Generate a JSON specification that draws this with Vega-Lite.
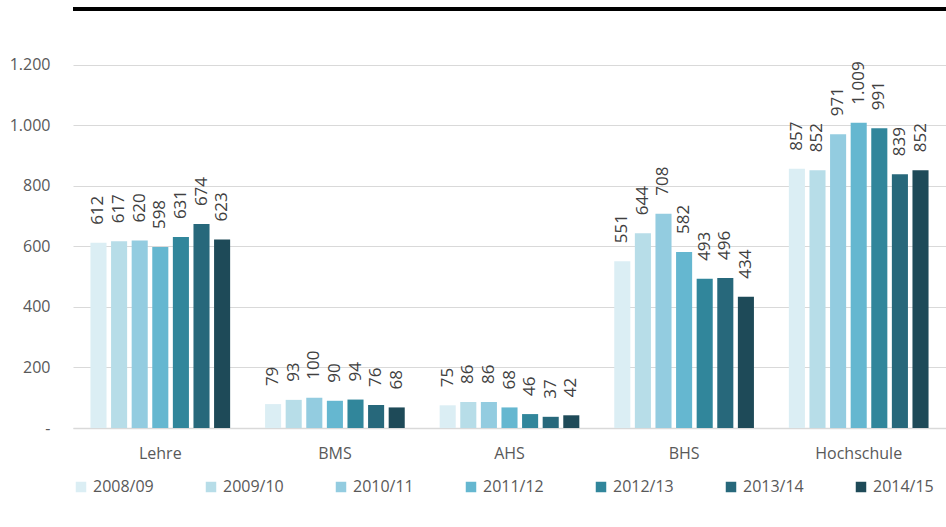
{
  "$schema": "https://vega.github.io/schema/vega-lite/v6.json",
  "width": 873,
  "height": 419,
  "autosize": "none",
  "padding": {"left": 73, "top": 9, "right": 0, "bottom": 99},
  "config": {
    "view": {"stroke": null},
    "font": "Open Sans",
    "locale": {"number": {"decimal": ",", "thousands": ".", "grouping": [3], "currency": ["", " €"]}}
  },
  "data": {"values": [
    {"typ": "Lehre", "jahr": "2008/09", "wert": 612},
    {"typ": "Lehre", "jahr": "2009/10", "wert": 617},
    {"typ": "Lehre", "jahr": "2010/11", "wert": 620},
    {"typ": "Lehre", "jahr": "2011/12", "wert": 598},
    {"typ": "Lehre", "jahr": "2012/13", "wert": 631},
    {"typ": "Lehre", "jahr": "2013/14", "wert": 674},
    {"typ": "Lehre", "jahr": "2014/15", "wert": 623},
    {"typ": "BMS", "jahr": "2008/09", "wert": 79},
    {"typ": "BMS", "jahr": "2009/10", "wert": 93},
    {"typ": "BMS", "jahr": "2010/11", "wert": 100},
    {"typ": "BMS", "jahr": "2011/12", "wert": 90},
    {"typ": "BMS", "jahr": "2012/13", "wert": 94},
    {"typ": "BMS", "jahr": "2013/14", "wert": 76},
    {"typ": "BMS", "jahr": "2014/15", "wert": 68},
    {"typ": "AHS", "jahr": "2008/09", "wert": 75},
    {"typ": "AHS", "jahr": "2009/10", "wert": 86},
    {"typ": "AHS", "jahr": "2010/11", "wert": 86},
    {"typ": "AHS", "jahr": "2011/12", "wert": 68},
    {"typ": "AHS", "jahr": "2012/13", "wert": 46},
    {"typ": "AHS", "jahr": "2013/14", "wert": 37},
    {"typ": "AHS", "jahr": "2014/15", "wert": 42},
    {"typ": "BHS", "jahr": "2008/09", "wert": 551},
    {"typ": "BHS", "jahr": "2009/10", "wert": 644},
    {"typ": "BHS", "jahr": "2010/11", "wert": 708},
    {"typ": "BHS", "jahr": "2011/12", "wert": 582},
    {"typ": "BHS", "jahr": "2012/13", "wert": 493},
    {"typ": "BHS", "jahr": "2013/14", "wert": 496},
    {"typ": "BHS", "jahr": "2014/15", "wert": 434},
    {"typ": "Hochschule", "jahr": "2008/09", "wert": 857},
    {"typ": "Hochschule", "jahr": "2009/10", "wert": 852},
    {"typ": "Hochschule", "jahr": "2010/11", "wert": 971},
    {"typ": "Hochschule", "jahr": "2011/12", "wert": 1009},
    {"typ": "Hochschule", "jahr": "2012/13", "wert": 991},
    {"typ": "Hochschule", "jahr": "2013/14", "wert": 839},
    {"typ": "Hochschule", "jahr": "2014/15", "wert": 852}
  ]},
  "layer": [
    {
      "mark": {"type": "bar"},
      "encoding": {
        "x": {
          "field": "typ", "type": "nominal",
          "sort": ["Lehre", "BMS", "AHS", "BHS", "Hochschule"],
          "scale": {"paddingInner": 0.2, "paddingOuter": 0.1},
          "axis": {"title": null, "labelAngle": 0, "labelFontSize": 16, "labelColor": "#595959", "ticks": false, "domainColor": "#d9d9d9", "domainWidth": 1.5, "labelPadding": 17}
        },
        "xOffset": {
          "field": "jahr", "type": "nominal",
          "sort": ["2008/09", "2009/10", "2010/11", "2011/12", "2012/13", "2013/14", "2014/15"],
          "scale": {"paddingInner": 0.22}
        },
        "y": {
          "field": "wert", "type": "quantitative",
          "scale": {"domain": [0, 1385], "nice": false},
          "axis": {"title": null, "values": [0, 200, 400, 600, 800, 1000, 1200], "format": ",.0f", "labelExpr": "datum.value === 0 ? '-' : datum.label", "labelFontSize": 16, "labelColor": "#595959", "ticks": false, "domain": false, "gridColor": "#d9d9d9", "gridWidth": 1.2, "labelPadding": 23}
        },
        "color": {
          "field": "jahr", "type": "nominal",
          "sort": ["2008/09", "2009/10", "2010/11", "2011/12", "2012/13", "2013/14", "2014/15"],
          "scale": {"range": ["#dbeef4", "#b7dde8", "#93cce0", "#65b7d0", "#31869b", "#27687b", "#1e4a58"]},
          "legend": {"title": null, "orient": "bottom", "direction": "horizontal", "symbolType": "square", "symbolSize": 110, "symbolStrokeWidth": 0, "labelFontSize": 16, "labelColor": "#595959", "columnPadding": 49, "labelOffset": 4, "offset": 18}
        }
      }
    },
    {
      "mark": {"type": "text", "angle": -90, "align": "left", "baseline": "middle", "dx": 18, "fontSize": 17, "color": "#404040"},
      "encoding": {
        "x": {"field": "typ", "type": "nominal", "sort": ["Lehre", "BMS", "AHS", "BHS", "Hochschule"]},
        "xOffset": {"field": "jahr", "type": "nominal", "sort": ["2008/09", "2009/10", "2010/11", "2011/12", "2012/13", "2013/14", "2014/15"]},
        "y": {"field": "wert", "type": "quantitative"},
        "text": {"field": "wert", "type": "quantitative", "format": ",.0f"}
      }
    },
    {
      "mark": {"type": "rule", "color": "#000000", "strokeWidth": 2.5},
      "encoding": {"y": {"datum": 1385, "type": "quantitative"}}
    }
  ]
}
